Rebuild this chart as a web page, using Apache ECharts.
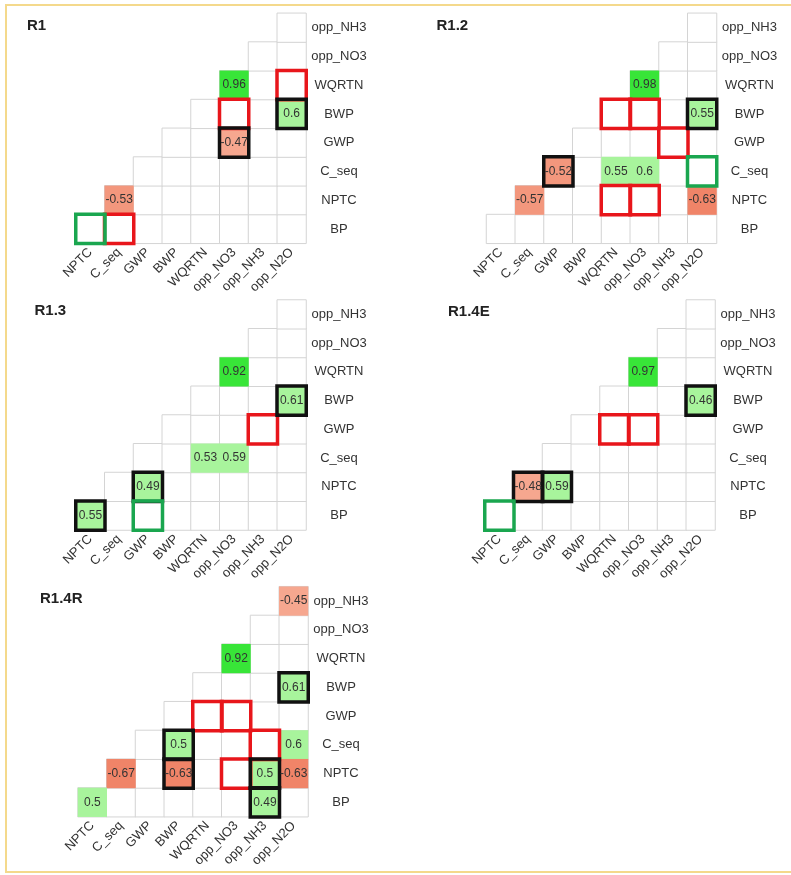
<!DOCTYPE html>
<html>
<head>
<meta charset="utf-8">
<title>Correlation triangles</title>
<script src="https://cdn.jsdelivr.net/npm/echarts@6/dist/echarts.min.js"></script>
<style>
html, body { margin: 0; padding: 0; background: #fff; }
#main { width: 791px; height: 875px; }
</style>
</head>
<body>
<div id="main"></div>
<script>
// axis categories (rows listed bottom -> top, like the y axis draws them)
const cols = ['NPTC', 'C_seq', 'GWP', 'BWP', 'WQRTN', 'opp_NO3', 'opp_NH3', 'opp_N2O'];
const rows = ['BP', 'NPTC', 'C_seq', 'GWP', 'BWP', 'WQRTN', 'opp_NO3', 'opp_NH3'];
const panelNames = ['R1', 'R1.2', 'R1.3', 'R1.4E', 'R1.4R'];

// significant correlations: [column, row, r]
const r1Values = [['opp_NO3', 'WQRTN', 0.96], ['opp_N2O', 'BWP', 0.6], ['opp_NO3', 'GWP', -0.47], ['C_seq', 'NPTC', -0.53]];
const r12Values = [['opp_NO3', 'WQRTN', 0.98], ['opp_N2O', 'BWP', 0.55], ['GWP', 'C_seq', -0.52], ['WQRTN', 'C_seq', 0.55],
  ['opp_NO3', 'C_seq', 0.6], ['C_seq', 'NPTC', -0.57], ['opp_N2O', 'NPTC', -0.63]];
const r13Values = [['opp_NO3', 'WQRTN', 0.92], ['opp_N2O', 'BWP', 0.61], ['WQRTN', 'C_seq', 0.53], ['opp_NO3', 'C_seq', 0.59],
  ['GWP', 'NPTC', 0.49], ['NPTC', 'BP', 0.55]];
const r14eValues = [['opp_NO3', 'WQRTN', 0.97], ['opp_N2O', 'BWP', 0.46], ['C_seq', 'NPTC', -0.48], ['GWP', 'NPTC', 0.59]];
const r14rValues = [['opp_N2O', 'opp_NH3', -0.45], ['opp_NO3', 'WQRTN', 0.92], ['opp_N2O', 'BWP', 0.61], ['BWP', 'C_seq', 0.5],
  ['opp_N2O', 'C_seq', 0.6], ['C_seq', 'NPTC', -0.67], ['BWP', 'NPTC', -0.63], ['opp_NH3', 'NPTC', 0.5],
  ['opp_N2O', 'NPTC', -0.63], ['NPTC', 'BP', 0.5], ['opp_NH3', 'BP', 0.49]];

// highlighted cells: [column, row]
const r1Red = [['opp_N2O', 'WQRTN'], ['opp_NO3', 'BWP'], ['C_seq', 'BP']];
const r1Black = [['opp_N2O', 'BWP'], ['opp_NO3', 'GWP']];
const r1Green = [['NPTC', 'BP']];
const r12Red = [['WQRTN', 'BWP'], ['opp_NO3', 'BWP'], ['opp_NH3', 'GWP'], ['WQRTN', 'NPTC'], ['opp_NO3', 'NPTC']];
const r12Black = [['opp_N2O', 'BWP'], ['GWP', 'C_seq']];
const r12Green = [['opp_N2O', 'C_seq']];
const r13Red = [['opp_NH3', 'GWP']];
const r13Black = [['opp_N2O', 'BWP'], ['GWP', 'NPTC'], ['NPTC', 'BP']];
const r13Green = [['GWP', 'BP']];
const r14eRed = [['WQRTN', 'GWP'], ['opp_NO3', 'GWP']];
const r14eBlack = [['opp_N2O', 'BWP'], ['C_seq', 'NPTC'], ['GWP', 'NPTC']];
const r14eGreen = [['NPTC', 'BP']];
const r14rRed = [['WQRTN', 'GWP'], ['opp_NO3', 'GWP'], ['opp_NH3', 'C_seq'], ['opp_NO3', 'NPTC']];
const r14rBlack = [['opp_N2O', 'BWP'], ['BWP', 'C_seq'], ['BWP', 'NPTC'], ['opp_NH3', 'NPTC'], ['opp_NH3', 'BP']];
const r14rGreen = [];

const allValues = [r1Values, r12Values, r13Values, r14eValues, r14rValues];
const allRed = [r1Red, r12Red, r13Red, r14eRed, r14rRed];
const allBlack = [r1Black, r12Black, r13Black, r14eBlack, r14rBlack];
const allGreen = [r1Green, r12Green, r13Green, r14eGreen, r14rGreen];

// panel placement
const layout = [
  { left: 76, top: 13.3, tx: 27, ty: 18 },
  { left: 486.5, top: 13.3, tx: 436.5, ty: 18 },
  { left: 76, top: 300, tx: 34.5, ty: 303 },
  { left: 485, top: 300, tx: 448, ty: 304 },
  { left: 78, top: 586.7, tx: 40, ty: 591 }
];
const cell = 28.75;
const font = 'Liberation Sans, Arial, sans-serif';

const chart = echarts.init(document.getElementById('main'));

// the lower triangle: row r holds columns r..7
const triangle = [];
for (let r = 0; r < rows.length; r++) {
  for (let c = r; c < cols.length; c++) {
    triangle.push([c, r, 0]);
  }
}

function toCells(list) {
  return list.map(d => [cols.indexOf(d[0]), rows.indexOf(d[1]), d.length > 2 ? d[2] : 0]);
}

const grids = [], xAxes = [], yAxes = [], titles = [], series = [], valueSeries = [];

panelNames.forEach((name, i) => {
  const p = layout[i];
  grids.push({ left: p.left, top: p.top, width: cell * 8, height: cell * 8 });
  titles.push({
    text: name, left: p.tx, top: p.ty, padding: 0,
    textStyle: { fontSize: 15, fontWeight: 'bold', color: '#222', fontFamily: font }
  });
  xAxes.push({
    type: 'category', gridIndex: i, data: cols,
    axisLine: { show: false }, axisTick: { show: false }, splitLine: { show: false },
    axisLabel: { rotate: 45, interval: 0, margin: 7, fontSize: 13, color: '#333', fontFamily: font }
  });
  yAxes.push({
    type: 'category', gridIndex: i, data: rows, position: 'right',
    axisLine: { show: false }, axisTick: { show: false }, splitLine: { show: false },
    axisLabel: { interval: 0, align: 'center', margin: 33, fontSize: 13, color: '#333', fontFamily: font }
  });

  series.push({
    type: 'heatmap', xAxisIndex: i, yAxisIndex: i, data: triangle, silent: true,
    itemStyle: { color: '#fff', borderColor: '#d4d4d4', borderWidth: 1 },
    emphasis: { disabled: true }
  });
  valueSeries.push(series.length);
  series.push({
    type: 'heatmap', xAxisIndex: i, yAxisIndex: i, data: toCells(allValues[i]), silent: true,
    label: { show: true, fontSize: 12, color: '#333', fontFamily: font },
    emphasis: { disabled: true }
  });
  [[allRed[i], '#e8161b'], [allBlack[i], '#111'], [allGreen[i], '#1aa64f']].forEach(b => {
    series.push({
      type: 'heatmap', xAxisIndex: i, yAxisIndex: i, data: toCells(b[0]), silent: true,
      itemStyle: { color: 'rgba(0,0,0,0)', borderColor: b[1], borderWidth: 3.5 },
      emphasis: { disabled: true }
    });
  });
});

const option = {
  backgroundColor: '#fff',
  animation: false,
  title: titles,
  grid: grids,
  xAxis: xAxes,
  yAxis: yAxes,
  visualMap: {
    type: 'piecewise', show: false, dimension: 2, seriesIndex: valueSeries,
    pieces: [
      { lt: -0.6, color: '#f08468' },
      { gte: -0.6, lt: -0.5, color: '#f3977d' },
      { gte: -0.5, lt: 0, color: '#f6a78f' },
      { gte: 0, lt: 0.9, color: '#a8f49c' },
      { gte: 0.9, color: '#38e538' }
    ]
  },
  graphic: [{
    type: 'rect', silent: true,
    shape: { x: 6, y: 5, width: 800, height: 867 },
    style: { fill: 'none', stroke: '#f4d98c', lineWidth: 2 }
  }],
  series: series
};
chart.setOption(option);
</script>
</body>
</html>
